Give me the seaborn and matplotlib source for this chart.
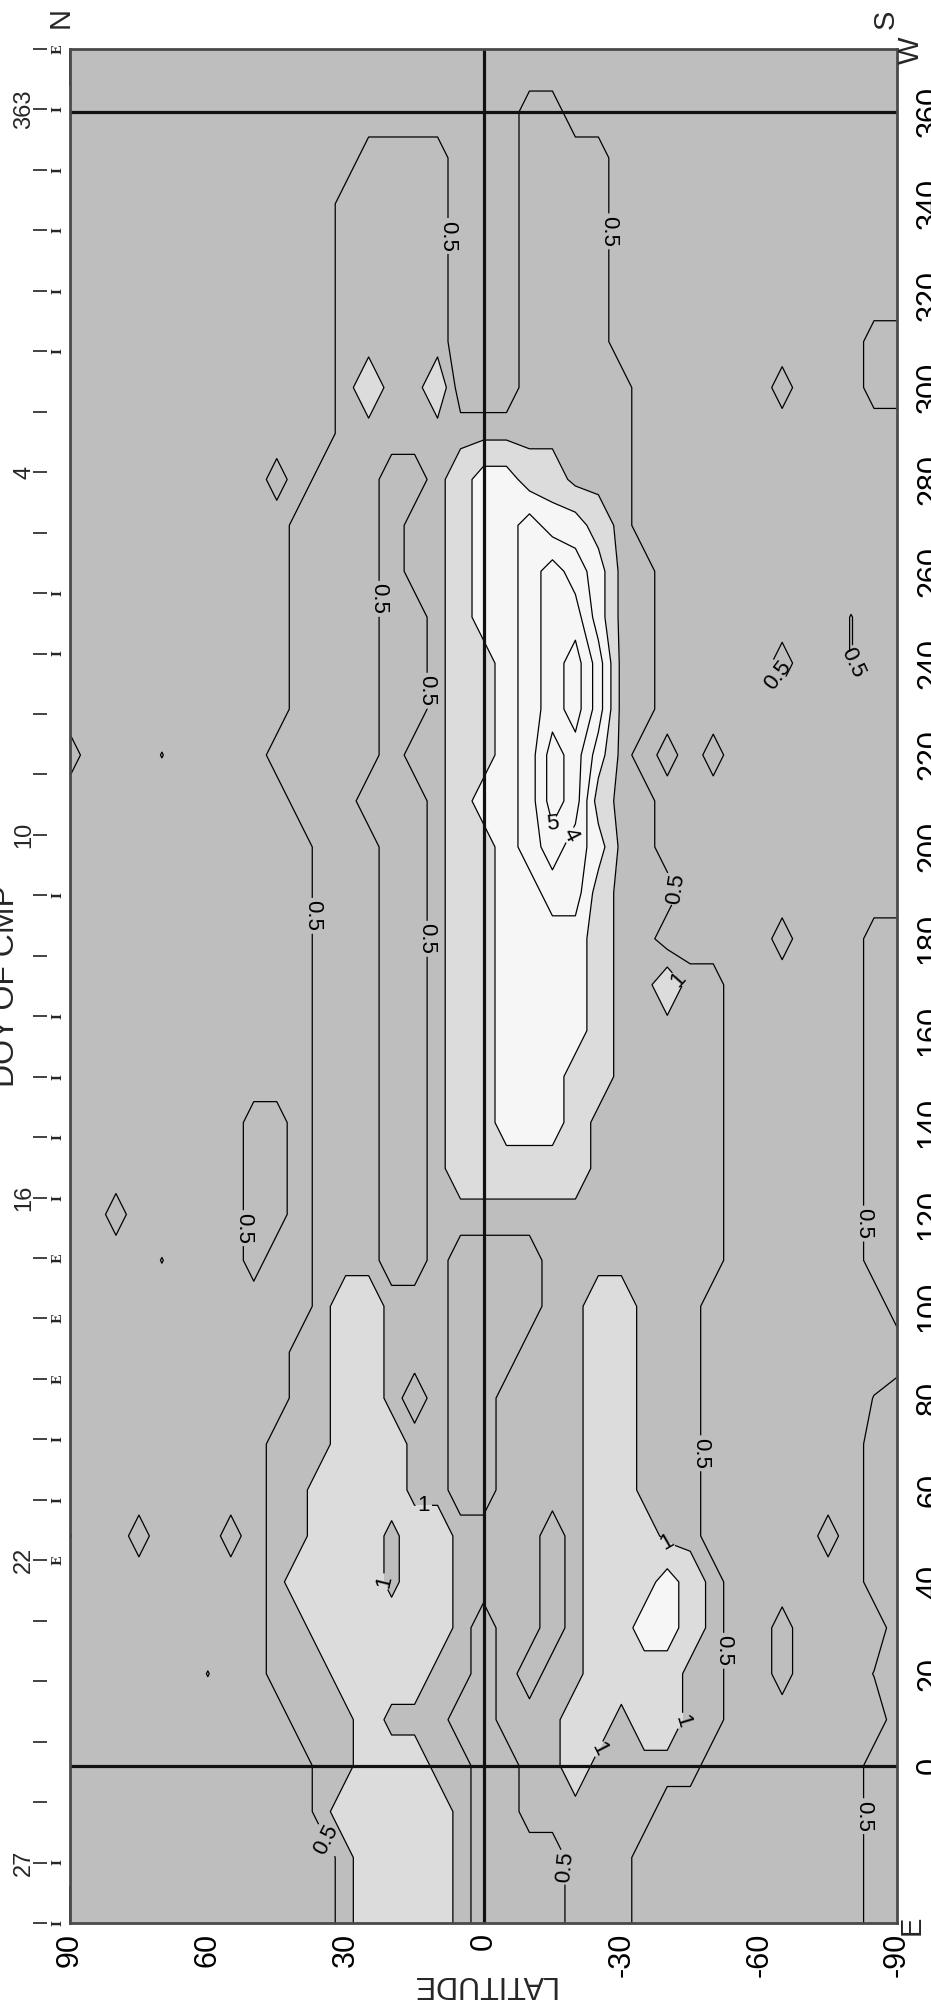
import numpy as np
import matplotlib
matplotlib.use("Agg")
import matplotlib.pyplot as plt
import matplotlib.transforms as mtransforms
import seaborn as sns

# ---------------- data ----------------
# grid: columns = latitude 90 .. -90 (step 5), rows = Carrington longitude 380 .. -40 (step 10)
latitudes = list(range(90, -95, -5))
longitudes = list(range(380, -50, -10))
# cell class codes ('.' <0.5, a 0.5-1, b 1-2, c 2-3, d 3-4, e 4-5, f >5)
code_values = {'.': 0.2, 'z': 0.52, 'a': 0.75, 'b': 1.5, 'c': 2.5, 'd': 3.5, 'e': 4.5, 'f': 5.5}
field_rows = [
    "..... ..... ..... ..... ..... ..... ..... ..",   # 380
    "..... ..... ..... ..... ..... ..... ..... ..",   # 370
    "..... ..... ..... ..... aa... ..... ..... ..",   # 360
    "..... ..... ...aa aa... aaaa. ..... ..... ..",   # 350
    "..... ..... ..aaa aa... aaaa. ..... ..... ..",   # 340
    "..... ..... ..aaa aa... aaaa. ..... ..... ..",   # 330
    "..... ..... ..aaa aa... aaaa. ..... ..... ..",   # 320
    "..... ..... ..aaa aa... aaaa. ..... ..... aa",   # 310
    "..... ..... ..aba ab... aaaaa ..... .a... aa",   # 300
    "..... ..... ..aaa aaaaa aaaaa ..... ..... ..",   # 290
    "..... ....a .aaa. .abcc bbaaa ..... ..... ..",   # 280
    "..... ..... aaaa. aabcc dccba ..... ..... ..",   # 270
    "..... ..... aaaa. aabcc dedca a.... ..... ..",   # 260
    "..... ..... aaaa. .abcc deeca a.... ....z ..",   # 250
    "..... ..... aaaa. .abbc defda a.... .a..z ..",   # 240
    "..... ..... aaaa. .abbc defda a.... ..... ..",   # 230
    "a...z ....a aaaa. aabbc dfeca .a.a. ..... ..",   # 220
    "..... ..... aaa.. .abcc dfeba a.... ..... ..",   # 210
    "..... ..... .aaa. .abbc dedca a.... ..... ..",   # 200
    "..... ..... .aaa. .abbc cddba aa... ..... ..",   # 190
    "..... ..... .aaa. .abbc cccba a.... .a... aa",   # 180
    "..... ..... .aaa. .abbc cccba abaa. ..... aa",   # 170
    "..... ..... .aaa. .abbc cccba aaaa. ..... aa",   # 160
    "..... ..... .aaa. .abbc ccbba aaaa. ..... aa",   # 150
    "..... ...aa .aaa. .abbc ccbaa aaaa. ..... aa",   # 140
    "..... ...aa .aaa. .abbb bbbaa aaaa. ..... aa",   # 130
    "..a.. ...aa .aaa. .aaaa aaaaa aaaa. ..... aa",   # 120
    "....z ...a. .aaa. .a... .aaaa aaaa. ..... aa",   # 110
    "..... ..... .abba aa... .aabb aaa.. ..... .a",   # 100
    "..... ..... aabba aa... aaabb aaa.. ..... ..",   # 90
    "..... ..... aabba .a..a aaabb aaa.. ..... za",   # 80
    "..... ....a aabbb aa..a aaabb aaa.. ..... aa",   # 70
    "..... ....a abbbb aa..a aaabb aaa.. ..... aa",   # 60
    "z..a. ..a.a abbba bbaaa a.abb baa.. ...a. aa",   # 50
    "..... ....a bbbba bbaaa a.abb bcba. ..... aa",   # 40
    "..... ....a abbbb bba.a a.abb ccba. .a... .a",   # 30
    "..... .z..a aabbb baa.a .aabb bbaa. .a... za",   # 20
    "..... ..... aaaba aa..a aabba bbaa. ..... .a",   # 10
    "..... ..... .aabb baa.. aabaa aaa.. ..... aa",   # 0
    "..... ..... .abbb bba.. aaaaa a.... ..... aa",   # -10
    "..... ..... ..abb bba.. ..aaa ..... ..... aa",   # -20
    "..... ..... ..abb bba.. ..aaa ..... ..... aa",   # -30
    "..... ..... ..abb bba.. ..aaa ..... ..... aa",   # -40
]
contour_levels = [0.5, 1, 2, 3, 4, 5]

# day-of-year of central meridian passage (left axis)
cmp_days = [362, 363, 364, 365] + list(range(1, 29))
day_marks = ['E', 'I', 'I', 'I', 'I', 'I', '', '', '', 'I', 'I', '', '', '', 'I', '',
             'I', 'I', 'I', 'I', 'E', 'E', 'E', 'I', 'I', 'E', '', '', '', '', 'I', 'I']
labeled_days = [363, 4, 10, 16, 22, 27]
lon_of_first_day = 373.7
deg_per_day = 13.16

lat_ticks = [90, 60, 30, 0, -30, -60, -90]
lat_minor = [80, 70, 50, 40, 20, 10, -10, -20, -40, -50, -70, -80]
lon_ticks = list(range(0, 361, 20))
lon_minor = list(range(10, 360, 20))

# approximate contour label anchor points (lat, lon)
label_spots = [(3.5, 333), (-24.4, 334), (23, 254), (14.7, 234), (-63.5, 237), (-84.4, 240),
               (32.2, 185), (17.4, 180), (-44, 192), (-15, 205), (-18, 203), (52, 117),
               (-84, 118), (-41, 170), (-44, 68), (13, 53), (-38, 46), (30, 39), (-52, 25),
               (-22.5, 5), (-42.6, 10), (35.6, -17), (-19, -22), (-84, -11)]

# ---------------- figure ----------------
sns.set_theme(style="white")
plt.rcParams['font.family'] = ['Liberation Sans', 'DejaVu Sans']

rows = []
for r in field_rows:
    s = r.replace(' ', '')
    s = (s + '.' * 37)[:37]
    rows.append([code_values[c] for c in s])
Z = np.array(rows)
LAT, LON = np.meshgrid(np.array(latitudes, float), np.array(longitudes, float))

W, H = 931, 2003
fig = plt.figure(figsize=(W / 100, H / 100), dpi=100)
fig.patch.set_facecolor('white')
ax = fig.add_axes([70 / W, 80 / H, 827 / W, 1874 / H])
ax.set_facecolor('#bebebe')

ax.contourf(LAT, LON, Z, levels=[-1, 1, 2, 10], colors=['#bebebe', '#dcdcdc', '#f6f6f6'])
cs = ax.contour(LAT, LON, Z, levels=contour_levels, colors='black', linewidths=0.9)
ax.clabel(cs, fmt=lambda v: f"{v:g}", manual=label_spots, inline=True,
          fontsize=16, inline_spacing=2)

ax.set_xlim(90, -90)
ax.set_ylim(lon_of_first_day - deg_per_day * (len(cmp_days) - 1), lon_of_first_day)

ax.axvline(0, color='#111111', lw=2.3, zorder=5)
ax.axhline(0, color='#111111', lw=2.3, zorder=5)
ax.axhline(360, color='#111111', lw=2.3, zorder=5)

for sp in ax.spines.values():
    sp.set_color('#4a4a4a')
    sp.set_linewidth(2)
    sp.set_zorder(6)

ax.set_xticks(lat_ticks)
ax.set_xticklabels([f"{v}" for v in lat_ticks], rotation=90, fontsize=22)
ax.set_xticks(lat_minor, minor=True)
ax.tick_params(axis='x', which='major', direction='in', length=26.6, width=1.1,
               top=True, bottom=True, pad=7, colors='black')
ax.tick_params(axis='x', which='minor', direction='in', length=13.7, width=1.1,
               top=True, bottom=True, colors='black')

ax.set_yticks(lon_ticks)
ax.set_yticklabels([f"{v}" for v in lon_ticks], rotation=90, fontsize=22)
ax.set_yticks(lon_minor, minor=True)
ax.tick_params(axis='y', which='major', direction='in', length=17, width=1.1,
               left=True, right=True, labelleft=False, labelright=True, pad=13, colors='black')
ax.tick_params(axis='y', which='minor', direction='in', length=8.6, width=1.1,
               left=True, right=True, colors='black')
for t in ax.get_yticklabels():
    t.set_va('center')
ax.grid(False)

# day-of-CMP ticks on the left
trans = mtransforms.blended_transform_factory(ax.transAxes, ax.transData)
for k, (d, m) in enumerate(zip(cmp_days, day_marks)):
    y = lon_of_first_day - deg_per_day * k
    ax.plot([-0.0447, -0.0278], [y, y], transform=trans, color='#333333', lw=1.3,
            clip_on=False, solid_capstyle='butt')
    if m:
        ax.text(-0.0151, y, m, transform=trans, rotation=90, ha='center', va='center',
                fontsize=9, fontweight='bold', family='DejaVu Serif', clip_on=False)
    if d in labeled_days:
        ax.text(-0.0556, y, str(d), transform=trans, rotation=90, ha='center',
                va='center', fontsize=17, clip_on=False)

ax.text(-0.0774, 0.5, "DOY OF CMP", transform=ax.transAxes, rotation=90,
        ha='center', va='center', fontsize=23)
fig.text(483 / W, 1 - 1984 / H, "LATITUDE", rotation=180, ha='center', va='center',
         fontsize=22)
fig.text(61 / W, 1 - 18 / H, "N", rotation=90, ha='center', va='center', fontsize=21)
fig.text(886 / W, 1 - 19 / H, "S", rotation=90, ha='center', va='center', fontsize=21)
fig.text(911 / W, 1 - 50 / H, "W", rotation=90, ha='center', va='center', fontsize=21)
fig.text(912 / W, 1 - 1925 / H, "E", rotation=90, ha='center', va='center', fontsize=21)

fig.savefig("out.png", dpi=100)
